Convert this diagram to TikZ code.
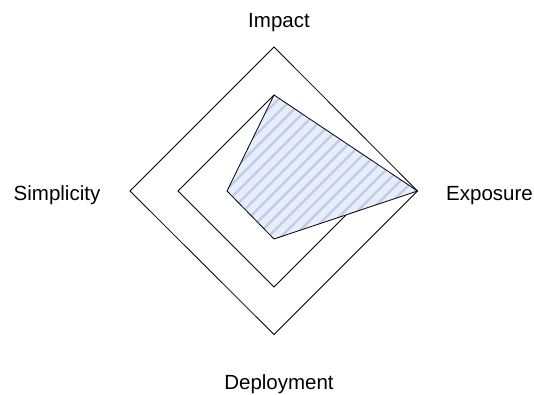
\documentclass[tikz,border=0pt]{standalone}
\usepackage{fontspec}
\setmainfont{Liberation Sans}
\definecolor{hatchbg}{RGB}{232,238,249}
\definecolor{hatchln}{RGB}{190,206,234}
\begin{document}
\begin{tikzpicture}[x=1pt,y=-1pt,
  lbl/.style={font=\fontsize{20.5}{24}\selectfont, inner sep=0pt, anchor=base},
  ring/.style={draw=black, line width=0.8pt, line join=miter},
  stripe/.style={draw=hatchln, line width=2.4pt}]
\useasboundingbox (0,0) rectangle (534,394);
% outer ring
\coordinate (ot) at (274,47);
\coordinate (or) at (417.5,191);
\coordinate (ob) at (274,334.5);
\coordinate (ol) at (130,191);
% inner ring
\coordinate (it) at (274,95);
\coordinate (ir) at (370,191);
\coordinate (ib) at (274,287);
\coordinate (il) at (178,191);
% data polygon
\coordinate (dt) at (274,95);
\coordinate (dr) at (417.5,191);
\coordinate (db) at (274,239);
\coordinate (dl) at (227,191);
\draw[ring] (ot) -- (or) -- (ob) -- (ol) -- cycle;
\draw[ring] (it) -- (ir) -- (ib) -- (il) -- cycle;
\fill[hatchbg] (dt) -- (dr) -- (db) -- (dl) -- cycle;
\begin{scope}
  \clip (dt) -- (dr) -- (db) -- (dl) -- cycle;
  \foreach \x in {60,72.7,...,500}
    \draw[stripe] (\x-200,391) -- (\x+200,-9);
\end{scope}
\draw[ring] (dt) -- (dr) -- (db) -- (dl) -- cycle;
% labels
\node[lbl] (impact) at (279,27) {Impact};
\node[lbl] (exposure) at (489.5,200) {Exposure};
\node[lbl] (deploy) at (279,389.5) {Deployment};
\node[lbl] (simpl) at (57,200) {Simplicity};
\end{tikzpicture}
\end{document}
